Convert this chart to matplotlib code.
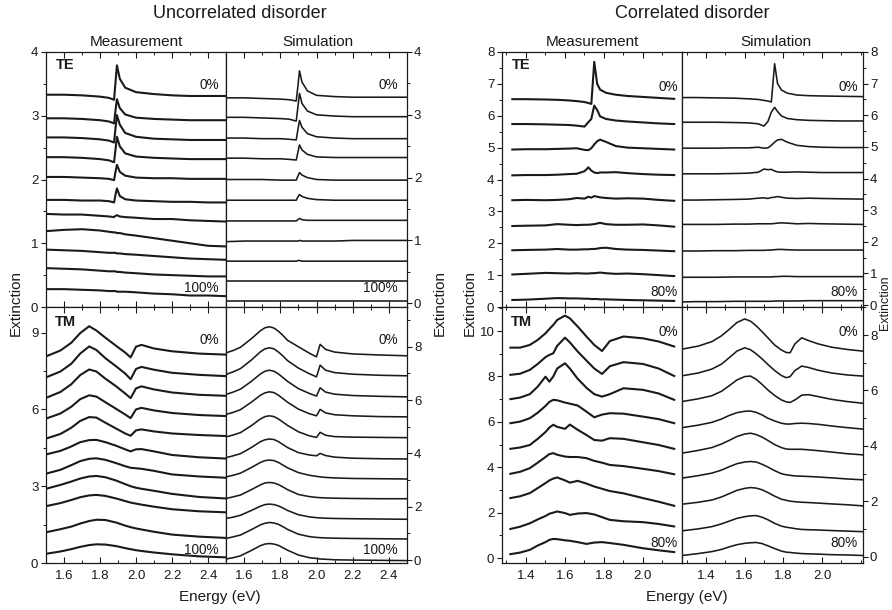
import matplotlib
matplotlib.use("Agg")
import matplotlib.pyplot as plt
from matplotlib.ticker import MultipleLocator, FixedLocator

plt.rcParams['font.family'] = ['Liberation Sans', 'DejaVu Sans']

# ---------------- data ----------------
# Uncorrelated disorder, TE, measurement (0% ... 100%, top to bottom)
unc_te_meas_x = [1.50, 1.60, 1.70, 1.80, 1.85, 1.878, 1.886, 1.894, 1.91, 1.94, 2.00, 2.10, 2.20, 2.30, 2.40, 2.50]
unc_te_meas_y = [
    [3.33, 3.33, 3.32, 3.30, 3.28, 3.25, 3.52, 3.79, 3.58, 3.44, 3.37, 3.34, 3.32, 3.31, 3.31, 3.31],
    [2.96, 2.96, 2.95, 2.93, 2.91, 2.88, 3.08, 3.26, 3.12, 3.02, 2.97, 2.95, 2.94, 2.93, 2.93, 2.93],
    [2.66, 2.66, 2.65, 2.63, 2.61, 2.58, 2.80, 3.01, 2.86, 2.73, 2.67, 2.64, 2.63, 2.62, 2.62, 2.62],
    [2.35, 2.35, 2.34, 2.32, 2.30, 2.27, 2.47, 2.67, 2.52, 2.41, 2.36, 2.34, 2.33, 2.32, 2.32, 2.32],
    [2.04, 2.04, 2.03, 2.02, 2.01, 1.99, 2.12, 2.23, 2.12, 2.06, 2.03, 2.02, 2.02, 2.01, 2.01, 2.01],
    [1.68, 1.68, 1.67, 1.67, 1.66, 1.64, 1.76, 1.86, 1.74, 1.69, 1.67, 1.66, 1.65, 1.65, 1.64, 1.64],
    [1.46, 1.45, 1.45, 1.43, 1.42, 1.41, 1.43, 1.44, 1.42, 1.41, 1.40, 1.38, 1.38, 1.36, 1.35, 1.34],
    [1.19, 1.21, 1.22, 1.20, 1.18, 1.17, 1.17, 1.16, 1.16, 1.14, 1.12, 1.08, 1.04, 1.00, 0.96, 0.95],
    [0.90, 0.89, 0.88, 0.86, 0.85, 0.85, 0.85, 0.84, 0.84, 0.83, 0.82, 0.80, 0.78, 0.76, 0.75, 0.74],
    [0.61, 0.60, 0.59, 0.57, 0.56, 0.56, 0.56, 0.55, 0.55, 0.54, 0.53, 0.51, 0.50, 0.49, 0.48, 0.48],
    [0.28, 0.28, 0.27, 0.26, 0.25, 0.25, 0.25, 0.24, 0.24, 0.24, 0.23, 0.21, 0.20, 0.18, 0.18, 0.17],
]

# Uncorrelated disorder, TE, simulation
unc_te_sim_x = [1.50, 1.60, 1.70, 1.80, 1.85, 1.888, 1.897, 1.906, 1.92, 1.95, 2.00, 2.10, 2.20, 2.30, 2.40, 2.50]
unc_te_sim_y = [
    [3.27, 3.27, 3.26, 3.25, 3.24, 3.22, 3.45, 3.70, 3.52, 3.38, 3.31, 3.29, 3.28, 3.28, 3.28, 3.28],
    [2.96, 2.96, 2.95, 2.94, 2.93, 2.90, 3.12, 3.34, 3.18, 3.06, 3.00, 2.98, 2.97, 2.97, 2.97, 2.97],
    [2.63, 2.63, 2.62, 2.62, 2.61, 2.60, 2.76, 2.91, 2.80, 2.70, 2.65, 2.63, 2.62, 2.62, 2.62, 2.62],
    [2.31, 2.31, 2.30, 2.30, 2.29, 2.28, 2.40, 2.52, 2.44, 2.37, 2.33, 2.32, 2.32, 2.32, 2.32, 2.32],
    [1.97, 1.97, 1.97, 1.96, 1.96, 1.96, 2.02, 2.08, 2.04, 2.00, 1.97, 1.96, 1.96, 1.96, 1.96, 1.96],
    [1.64, 1.64, 1.64, 1.64, 1.64, 1.64, 1.69, 1.73, 1.70, 1.67, 1.65, 1.64, 1.64, 1.64, 1.64, 1.64],
    [1.31, 1.31, 1.31, 1.31, 1.31, 1.31, 1.33, 1.35, 1.33, 1.32, 1.32, 1.32, 1.32, 1.32, 1.32, 1.32],
    [0.98, 0.99, 0.99, 0.99, 0.99, 0.99, 0.99, 1.00, 0.99, 0.99, 0.99, 0.99, 1.00, 1.00, 1.00, 1.00],
    [0.67, 0.67, 0.67, 0.67, 0.67, 0.67, 0.68, 0.68, 0.67, 0.67, 0.67, 0.67, 0.67, 0.67, 0.67, 0.67],
    [0.35, 0.35, 0.35, 0.35, 0.35, 0.35, 0.35, 0.35, 0.35, 0.35, 0.35, 0.35, 0.35, 0.35, 0.35, 0.35],
    [0.03, 0.03, 0.03, 0.03, 0.03, 0.03, 0.03, 0.03, 0.03, 0.03, 0.03, 0.03, 0.03, 0.03, 0.03, 0.03],
]

# Uncorrelated disorder, TM, measurement
unc_tm_meas_x = [1.50, 1.58, 1.64, 1.69, 1.74, 1.78, 1.83, 1.89, 1.94, 1.97, 2.00, 2.03, 2.10, 2.20, 2.35, 2.50]
unc_tm_meas_y = [
    [8.07, 8.30, 8.60, 8.98, 9.25, 9.08, 8.80, 8.48, 8.22, 8.03, 8.45, 8.52, 8.38, 8.27, 8.18, 8.14],
    [7.25, 7.48, 7.78, 8.18, 8.46, 8.32, 8.00, 7.68, 7.40, 7.18, 7.58, 7.66, 7.55, 7.43, 7.35, 7.30],
    [6.45, 6.68, 6.98, 7.34, 7.56, 7.48, 7.20, 6.90, 6.62, 6.44, 6.82, 6.90, 6.78, 6.66, 6.57, 6.53],
    [5.64, 5.84, 6.10, 6.40, 6.55, 6.50, 6.28, 6.02, 5.80, 5.66, 6.00, 6.06, 5.96, 5.86, 5.78, 5.74],
    [4.86, 5.04, 5.28, 5.55, 5.70, 5.68, 5.48, 5.25, 5.06, 4.97, 5.18, 5.22, 5.14, 5.06, 5.00, 4.96],
    [4.24, 4.38, 4.55, 4.72, 4.80, 4.81, 4.72, 4.58, 4.44, 4.36, 4.44, 4.45, 4.36, 4.22, 4.13, 4.08],
    [3.49, 3.64, 3.82, 3.98, 4.07, 4.09, 4.03, 3.90, 3.78, 3.72, 3.70, 3.68, 3.60, 3.46, 3.38, 3.33],
    [2.90, 3.05, 3.18, 3.30, 3.38, 3.40, 3.35, 3.22, 3.08, 3.00, 2.94, 2.90, 2.82, 2.70, 2.58, 2.52],
    [2.22, 2.34, 2.46, 2.57, 2.64, 2.66, 2.62, 2.52, 2.42, 2.36, 2.32, 2.28, 2.20, 2.10, 2.02, 1.98],
    [1.20, 1.32, 1.42, 1.54, 1.64, 1.69, 1.68, 1.58, 1.46, 1.40, 1.35, 1.31, 1.22, 1.11, 1.03, 0.98],
    [0.36, 0.45, 0.54, 0.63, 0.70, 0.73, 0.72, 0.66, 0.58, 0.54, 0.50, 0.47, 0.41, 0.34, 0.26, 0.22],
]

# Uncorrelated disorder, TM, simulation
unc_tm_sim_x = [1.50, 1.54, 1.58, 1.64, 1.69, 1.715, 1.74, 1.765, 1.79, 1.815, 1.84, 1.90, 1.96, 2.00, 2.02, 2.05, 2.10, 2.20, 2.35, 2.50]
unc_tm_sim_y = [
    [7.77, 7.86, 7.98, 8.30, 8.60, 8.71, 8.75, 8.70, 8.58, 8.42, 8.24, 8.00, 7.76, 7.62, 8.09, 7.90, 7.80, 7.73, 7.69, 7.66],
    [6.96, 7.06, 7.18, 7.50, 7.81, 7.92, 7.96, 7.92, 7.80, 7.65, 7.48, 7.20, 6.99, 6.87, 7.31, 7.12, 7.03, 6.97, 6.93, 6.91],
    [6.21, 6.30, 6.41, 6.70, 6.98, 7.08, 7.12, 7.08, 6.98, 6.84, 6.70, 6.43, 6.25, 6.15, 6.46, 6.30, 6.22, 6.17, 6.14, 6.12],
    [5.46, 5.54, 5.64, 5.92, 6.18, 6.27, 6.31, 6.28, 6.18, 6.05, 5.92, 5.66, 5.49, 5.41, 5.65, 5.52, 5.45, 5.41, 5.38, 5.37],
    [4.62, 4.69, 4.78, 5.04, 5.29, 5.38, 5.41, 5.38, 5.29, 5.17, 5.05, 4.81, 4.66, 4.60, 4.79, 4.68, 4.63, 4.61, 4.60, 4.59],
    [3.84, 3.91, 3.99, 4.22, 4.44, 4.51, 4.54, 4.52, 4.44, 4.33, 4.22, 4.03, 3.94, 3.91, 4.00, 3.92, 3.86, 3.82, 3.80, 3.79],
    [3.12, 3.18, 3.26, 3.47, 3.66, 3.73, 3.75, 3.73, 3.66, 3.56, 3.46, 3.28, 3.18, 3.14, 3.12, 3.10, 3.08, 3.06, 3.05, 3.04],
    [2.31, 2.37, 2.44, 2.64, 2.82, 2.89, 2.91, 2.89, 2.83, 2.74, 2.64, 2.46, 2.38, 2.35, 2.34, 2.33, 2.32, 2.31, 2.30, 2.30],
    [1.56, 1.61, 1.68, 1.86, 2.02, 2.08, 2.10, 2.08, 2.03, 1.95, 1.86, 1.70, 1.62, 1.59, 1.58, 1.57, 1.56, 1.55, 1.54, 1.53],
    [0.81, 0.87, 0.94, 1.14, 1.32, 1.38, 1.41, 1.39, 1.34, 1.25, 1.15, 0.97, 0.88, 0.85, 0.84, 0.83, 0.82, 0.81, 0.80, 0.79],
    [0.04, 0.09, 0.16, 0.36, 0.54, 0.60, 0.62, 0.60, 0.55, 0.46, 0.37, 0.19, 0.09, 0.06, 0.04, 0.03, 0.01, 0.00, -0.01, -0.02],
]

# Correlated disorder, TE, measurement (0% ... 80%)
cor_te_meas_x = [1.33, 1.40, 1.50, 1.56, 1.62, 1.66, 1.70, 1.72, 1.735, 1.75, 1.765, 1.78, 1.81, 1.86, 1.92, 2.00, 2.08, 2.16]
cor_te_meas_y = [
    [6.52, 6.52, 6.51, 6.50, 6.48, 6.46, 6.43, 6.40, 6.37, 7.69, 7.00, 6.82, 6.72, 6.66, 6.62, 6.59, 6.56, 6.53],
    [5.74, 5.74, 5.73, 5.72, 5.71, 5.69, 5.66, 5.80, 5.90, 6.32, 6.18, 5.98, 5.90, 5.85, 5.82, 5.79, 5.76, 5.74],
    [4.94, 4.95, 4.95, 4.96, 4.97, 4.98, 4.93, 4.92, 4.98, 5.10, 5.20, 5.25, 5.18, 5.05, 5.00, 4.98, 4.96, 4.94],
    [4.13, 4.14, 4.14, 4.15, 4.17, 4.18, 4.26, 4.38, 4.28, 4.22, 4.20, 4.22, 4.22, 4.23, 4.20, 4.17, 4.15, 4.14],
    [3.35, 3.36, 3.35, 3.36, 3.38, 3.42, 3.40, 3.46, 3.43, 3.48, 3.46, 3.44, 3.42, 3.40, 3.41, 3.40, 3.36, 3.33],
    [2.54, 2.55, 2.56, 2.60, 2.58, 2.57, 2.58, 2.58, 2.59, 2.60, 2.62, 2.64, 2.60, 2.58, 2.58, 2.59, 2.56, 2.52],
    [1.78, 1.79, 1.80, 1.82, 1.80, 1.80, 1.81, 1.81, 1.82, 1.82, 1.83, 1.85, 1.86, 1.82, 1.80, 1.79, 1.77, 1.75],
    [1.02, 1.04, 1.07, 1.06, 1.05, 1.06, 1.05, 1.05, 1.06, 1.06, 1.07, 1.08, 1.06, 1.04, 1.05, 1.03, 1.00, 0.97],
    [0.22, 0.23, 0.26, 0.28, 0.27, 0.27, 0.26, 0.26, 0.25, 0.25, 0.25, 0.24, 0.24, 0.23, 0.22, 0.21, 0.20, 0.19],
]

# Correlated disorder, TE, simulation
cor_te_sim_x = [1.276, 1.35, 1.45, 1.55, 1.62, 1.67, 1.70, 1.72, 1.738, 1.755, 1.77, 1.79, 1.82, 1.87, 1.93, 2.00, 2.10, 2.21]
cor_te_sim_y = [
    [6.56, 6.56, 6.55, 6.54, 6.52, 6.50, 6.47, 6.45, 6.42, 7.63, 7.00, 6.80, 6.70, 6.64, 6.62, 6.61, 6.60, 6.59],
    [5.78, 5.78, 5.78, 5.77, 5.76, 5.73, 5.66, 5.80, 6.10, 6.25, 6.12, 5.98, 5.90, 5.86, 5.84, 5.83, 5.82, 5.82],
    [4.96, 4.96, 4.96, 4.97, 4.97, 4.99, 4.96, 4.97, 5.05, 5.15, 5.22, 5.24, 5.15, 5.05, 5.01, 4.99, 4.98, 4.98],
    [4.15, 4.15, 4.15, 4.16, 4.17, 4.20, 4.30, 4.28, 4.29, 4.24, 4.21, 4.20, 4.20, 4.21, 4.20, 4.19, 4.19, 4.19],
    [3.32, 3.32, 3.33, 3.34, 3.35, 3.38, 3.39, 3.37, 3.40, 3.41, 3.43, 3.41, 3.38, 3.37, 3.38, 3.37, 3.36, 3.35],
    [2.55, 2.55, 2.55, 2.56, 2.56, 2.57, 2.57, 2.57, 2.57, 2.58, 2.59, 2.60, 2.59, 2.57, 2.58, 2.57, 2.56, 2.55],
    [1.71, 1.71, 1.72, 1.72, 1.73, 1.73, 1.73, 1.74, 1.74, 1.75, 1.76, 1.76, 1.75, 1.74, 1.74, 1.74, 1.74, 1.74],
    [0.88, 0.88, 0.88, 0.89, 0.89, 0.89, 0.89, 0.89, 0.89, 0.90, 0.90, 0.91, 0.91, 0.90, 0.90, 0.90, 0.90, 0.90],
    [0.10, 0.11, 0.11, 0.12, 0.12, 0.12, 0.12, 0.12, 0.12, 0.13, 0.13, 0.13, 0.13, 0.13, 0.14, 0.14, 0.14, 0.14],
]

# Correlated disorder, TM, measurement
cor_tm_meas_x = [1.32, 1.37, 1.42, 1.46, 1.50, 1.52, 1.54, 1.56, 1.60, 1.625, 1.665, 1.71, 1.75, 1.79, 1.83, 1.90, 2.00, 2.08, 2.16]
cor_tm_meas_y = [
    [9.27, 9.27, 9.39, 9.61, 9.90, 10.09, 10.27, 10.49, 10.68, 10.56, 10.20, 9.76, 9.39, 9.12, 9.56, 9.76, 9.68, 9.54, 9.32],
    [8.07, 8.12, 8.29, 8.55, 8.85, 8.95, 9.02, 9.35, 9.71, 9.50, 9.10, 8.70, 8.35, 8.11, 8.45, 8.63, 8.55, 8.35, 8.02],
    [7.00, 7.07, 7.22, 7.55, 7.99, 7.77, 8.00, 8.35, 8.58, 8.35, 7.90, 7.50, 7.22, 7.11, 7.22, 7.48, 7.41, 7.25, 6.97],
    [5.94, 6.01, 6.16, 6.40, 6.70, 6.88, 6.97, 6.95, 6.85, 6.80, 6.72, 6.45, 6.20, 6.32, 6.38, 6.36, 6.23, 6.12, 5.94],
    [4.81, 4.87, 4.98, 5.25, 5.55, 5.75, 5.87, 5.78, 5.69, 5.88, 5.65, 5.42, 5.20, 5.17, 5.28, 5.25, 5.10, 4.98, 4.81],
    [3.71, 3.80, 3.96, 4.20, 4.45, 4.58, 4.62, 4.55, 4.47, 4.45, 4.45, 4.40, 4.28, 4.20, 4.10, 4.05, 3.93, 3.83, 3.69],
    [2.64, 2.72, 2.86, 3.08, 3.30, 3.42, 3.50, 3.55, 3.42, 3.32, 3.40, 3.28, 3.15, 3.05, 2.95, 2.85, 2.64, 2.48, 2.30],
    [1.28, 1.38, 1.53, 1.70, 1.85, 1.95, 2.00, 2.05, 1.98, 1.90, 1.96, 1.98, 1.92, 1.80, 1.68, 1.62, 1.58, 1.50, 1.39],
    [0.17, 0.24, 0.36, 0.55, 0.70, 0.80, 0.84, 0.83, 0.78, 0.76, 0.70, 0.62, 0.68, 0.70, 0.66, 0.58, 0.43, 0.34, 0.26],
]

# Correlated disorder, TM, simulation
cor_tm_sim_x = [1.276, 1.36, 1.43, 1.48, 1.52, 1.56, 1.60, 1.63, 1.66, 1.69, 1.72, 1.755, 1.79, 1.815, 1.835, 1.86, 1.895, 1.93, 1.98, 2.05, 2.13, 2.21]
cor_tm_sim_y = [
    [7.49, 7.60, 7.76, 7.97, 8.20, 8.45, 8.58, 8.50, 8.33, 8.12, 7.90, 7.64, 7.46, 7.37, 7.36, 7.68, 7.90, 7.80, 7.68, 7.56, 7.48, 7.42],
    [6.53, 6.63, 6.77, 6.95, 7.18, 7.42, 7.54, 7.47, 7.32, 7.14, 6.94, 6.72, 6.54, 6.46, 6.50, 6.72, 6.88, 6.83, 6.73, 6.63, 6.56, 6.52],
    [5.60, 5.70, 5.81, 5.97, 6.17, 6.38, 6.50, 6.52, 6.40, 6.22, 6.02, 5.82, 5.66, 5.59, 5.57, 5.66, 5.83, 5.85, 5.78, 5.68, 5.60, 5.54],
    [4.66, 4.75, 4.85, 4.97, 5.10, 5.20, 5.25, 5.26, 5.21, 5.12, 5.00, 4.90, 4.82, 4.79, 4.79, 4.81, 4.82, 4.81, 4.78, 4.72, 4.66, 4.61],
    [3.74, 3.84, 3.94, 4.07, 4.20, 4.34, 4.43, 4.46, 4.41, 4.32, 4.20, 4.05, 3.94, 3.89, 3.88, 3.88, 3.88, 3.86, 3.83, 3.78, 3.72, 3.68],
    [2.84, 2.93, 3.02, 3.13, 3.25, 3.36, 3.42, 3.44, 3.42, 3.34, 3.24, 3.11, 3.00, 2.96, 2.94, 2.92, 2.91, 2.90, 2.88, 2.85, 2.81, 2.78],
    [1.90, 1.97, 2.05, 2.16, 2.28, 2.40, 2.47, 2.50, 2.48, 2.42, 2.32, 2.19, 2.08, 2.04, 2.01, 1.99, 1.97, 1.96, 1.94, 1.91, 1.88, 1.84],
    [0.94, 1.01, 1.09, 1.19, 1.29, 1.39, 1.45, 1.48, 1.49, 1.43, 1.34, 1.21, 1.11, 1.07, 1.05, 1.02, 0.99, 0.98, 0.97, 0.95, 0.93, 0.91],
    [0.05, 0.12, 0.19, 0.27, 0.36, 0.44, 0.49, 0.51, 0.52, 0.48, 0.40, 0.30, 0.21, 0.17, 0.16, 0.14, 0.12, 0.11, 0.10, 0.08, 0.07, 0.05],
]

unc_labels = ["0%", "100%"]
cor_labels = ["0%", "80%"]

# ---------------- layout ----------------
W, H = 892, 610
fig = plt.figure(figsize=(W / 100, H / 100), dpi=100)
INK = "#1a1a1a"


def box(x0, x1, y0, y1):
    return [x0 / W, 1 - y1 / H, (x1 - x0) / W, (y1 - y0) / H]


def ftext(x, y, s, **kw):
    fig.text(x / W, 1 - y / H, s, color=INK, **kw)


def make_panel(rect, xlim, ylim, ymaj, ymin, side, xlabels, xs, ys, lw, xmajor=None):
    ax = fig.add_axes(rect)
    for yv in ys:
        ax.plot(xs, yv, color=INK, lw=lw, solid_joinstyle='round')
    ax.set_xlim(*xlim)
    ax.set_ylim(*ylim)
    if xmajor is None:
        ax.xaxis.set_major_locator(MultipleLocator(0.2))
    else:
        ax.xaxis.set_major_locator(FixedLocator(xmajor))
    ax.xaxis.set_minor_locator(MultipleLocator(0.1))
    ax.yaxis.set_major_locator(MultipleLocator(ymaj))
    ax.yaxis.set_minor_locator(MultipleLocator(ymin))
    ax.tick_params(axis='x', which='both', direction='in', top=True, bottom=True,
                   labelbottom=xlabels, labelsize=9.5, pad=5, colors=INK)
    ax.tick_params(axis='x', which='major', length=4, width=0.8)
    ax.tick_params(axis='x', which='minor', length=2.5, width=0.7)
    if side == 'left':
        ax.tick_params(axis='y', which='both', direction='out', left=True, right=False,
                       labelleft=True, labelright=False, labelsize=9.5, pad=2, colors=INK)
    else:
        ax.tick_params(axis='y', which='both', direction='out', left=False, right=True,
                       labelleft=False, labelright=True, labelsize=9.5, pad=1.5, colors=INK)
    ax.tick_params(axis='y', which='major', length=3.5, width=0.8)
    ax.tick_params(axis='y', which='minor', length=2, width=0.7)
    for sp in ax.spines.values():
        sp.set_linewidth(0.9)
        sp.set_color(INK)
    return ax


LW_MEAS = 1.5
LW_SIM = 1.15

# Uncorrelated
make_panel(box(46, 226, 52, 307), (1.5, 2.5), (0, 4.0), 1, 0.5, 'left', False,
           unc_te_meas_x, unc_te_meas_y, LW_MEAS)
make_panel(box(226, 407, 52, 307), (1.5, 2.5), (-0.06, 4.0), 1, 0.5, 'right', False,
           unc_te_sim_x, unc_te_sim_y, LW_SIM)
make_panel(box(46, 226, 307, 563), (1.5, 2.5), (0, 10.0), 3, 1.5, 'left', True,
           unc_tm_meas_x, unc_tm_meas_y, LW_MEAS)
make_panel(box(226, 407, 307, 563), (1.5, 2.5), (-0.11, 9.49), 2, 1, 'right', True,
           unc_tm_sim_x, unc_tm_sim_y, LW_SIM)

# Correlated
cor_ticks = [1.4, 1.6, 1.8, 2.0]
make_panel(box(502, 682, 52, 307), (1.277, 2.2), (0, 8.0), 1, 0.5, 'left', False,
           cor_te_meas_x, cor_te_meas_y, LW_MEAS, cor_ticks)
make_panel(box(682, 863, 52, 307), (1.276, 2.212), (-0.06, 8.0), 1, 0.5, 'right', False,
           cor_te_sim_x, cor_te_sim_y, LW_SIM, cor_ticks)
make_panel(box(502, 682, 307, 563), (1.277, 2.2), (-0.22, 11.06), 2, 1, 'left', True,
           cor_tm_meas_x, cor_tm_meas_y, LW_MEAS, cor_ticks)
make_panel(box(682, 863, 307, 563), (1.276, 2.212), (-0.22, 9.01), 2, 1, 'right', True,
           cor_tm_sim_x, cor_tm_sim_y, LW_SIM, cor_ticks)

# ---------------- texts ----------------
ftext(240, 14, "Uncorrelated disorder", fontsize=13, ha='center', va='center')
ftext(692, 14, "Correlated disorder", fontsize=13, ha='center', va='center')
for cx in (136, 592):
    ftext(cx, 42, "Measurement", fontsize=11, ha='center', va='center')
for cx in (318, 776):
    ftext(cx, 42, "Simulation", fontsize=11, ha='center', va='center')
ftext(220, 597, "Energy (eV)", fontsize=11, ha='center', va='center')
ftext(687, 597, "Energy (eV)", fontsize=11, ha='center', va='center')
for cx in (16, 440, 470):
    ftext(cx, 303, "Extinction", fontsize=11, ha='center', va='center', rotation=90)
ftext(885, 303, "Extinction", fontsize=9, ha='center', va='center', rotation=90)

# mode labels
ftext(56, 65, "TE", fontsize=10.5, fontweight='bold', ha='left', va='center')
ftext(55, 322, "TM", fontsize=10.5, fontweight='bold', ha='left', va='center')
ftext(512, 65, "TE", fontsize=10.5, fontweight='bold', ha='left', va='center')
ftext(511, 322, "TM", fontsize=10.5, fontweight='bold', ha='left', va='center')

# percentage labels
for rx in (219, 398):
    ftext(rx, 85, unc_labels[0], fontsize=9.8, ha='right', va='center')
    ftext(rx, 288, unc_labels[1], fontsize=9.8, ha='right', va='center')
    ftext(rx, 340, unc_labels[0], fontsize=9.8, ha='right', va='center')
    ftext(rx, 550, unc_labels[1], fontsize=9.8, ha='right', va='center')
for rx in (678, 858):
    ftext(rx, 87, cor_labels[0], fontsize=9.8, ha='right', va='center')
    ftext(rx, 292, cor_labels[1], fontsize=9.8, ha='right', va='center')
    ftext(rx, 332, cor_labels[0], fontsize=9.8, ha='right', va='center')
    ftext(rx, 543, cor_labels[1], fontsize=9.8, ha='right', va='center')

fig.savefig("out.png", dpi=100)
